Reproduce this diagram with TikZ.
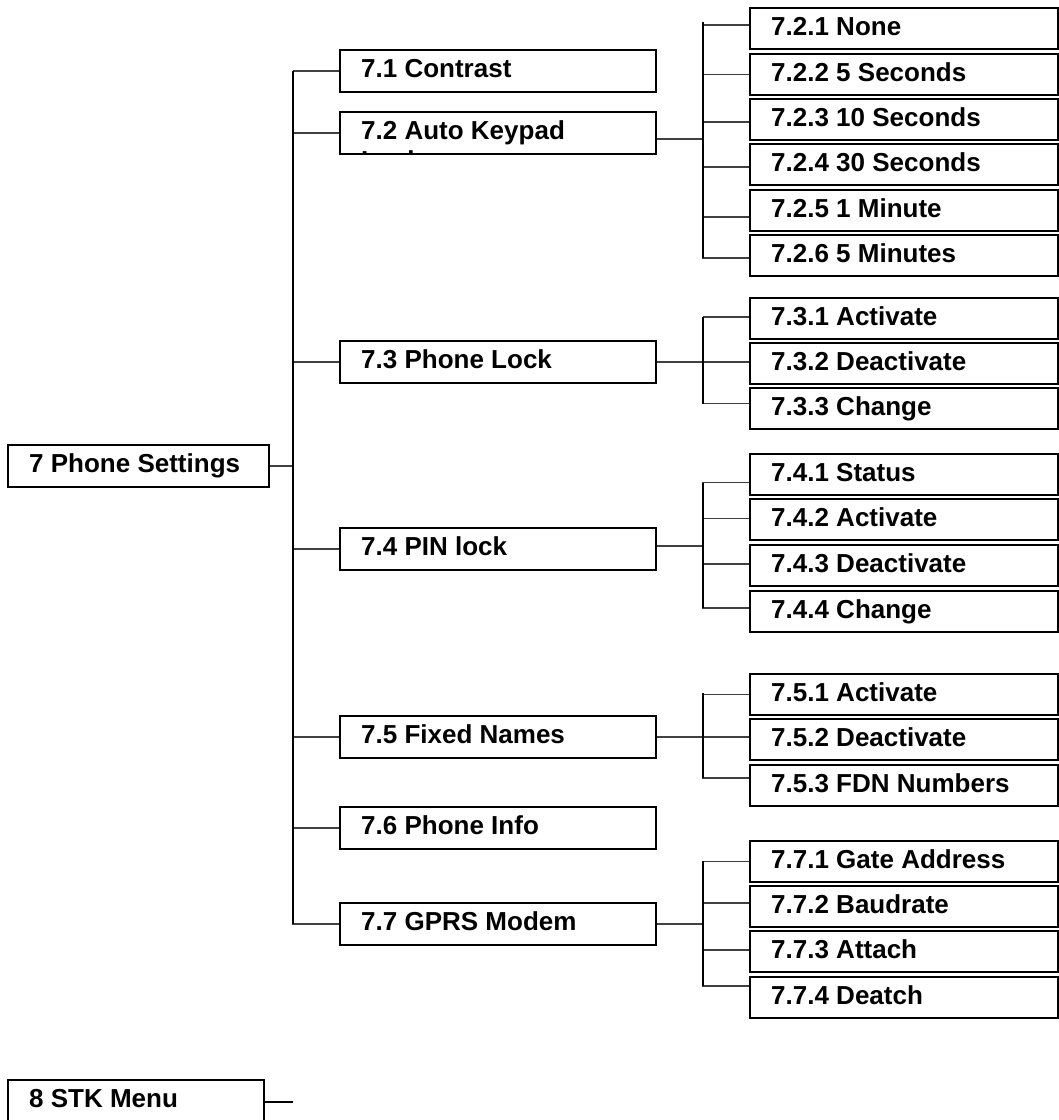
\documentclass[tikz,border=0pt]{standalone}
\usepackage{fontspec}
\setmainfont{Liberation Sans}
\usetikzlibrary{backgrounds}
\newcommand\mkbox[4]{\node[#1] (#2) at (#3) {};
  \node[lbl] (#2t) at ([xshift=21pt,yshift=-27pt]#2.north west) {#4};}
\begin{document}
\begin{tikzpicture}[x=1pt,y=-1pt,
  box/.style={draw, line width=2pt, rectangle, inner sep=0pt, outer sep=0pt, anchor=north west, minimum height=42pt},
  lone/.style={box, minimum width=316pt},
  ltwo/.style={box, minimum width=308pt, minimum height=41pt},
  lbl/.style={anchor=base west, inner sep=0pt, font=\fontsize{26}{30}\selectfont\bfseries},
  bus/.style={line width=2pt, black},
  stub/.style={line width=1.1pt, black!75}]
\useasboundingbox (0,0) rectangle (1059,1120);
\clip (0,0) rectangle (1059,1120);

% root and first level
\mkbox{box, minimum width=261pt}{n7}{8,445}{7 Phone Settings}
\mkbox{lone}{n71}{340,50}{7.1 Contrast}
\mkbox{lone}{n72}{340,112}{7.2 Auto Keypad}
\begin{scope}
  \clip (n72.north west) rectangle (n72.south east);
  \node[lbl] (n72l) at ([yshift=-30pt]n72t.base west) {Lock};
\end{scope}
\mkbox{lone}{n73}{340,341}{7.3 Phone Lock}
\mkbox{lone}{n74}{340,528}{7.4 PIN lock}
\mkbox{lone}{n75}{340,716}{7.5 Fixed Names}
\mkbox{lone}{n76}{340,807}{7.6 Phone Info}
\mkbox{lone}{n77}{340,903}{7.7 GPRS Modem}
\mkbox{box, minimum width=256pt, minimum height=60pt}{n8}{8,1080}{8 STK Menu}

% second level
\mkbox{ltwo}{n721}{750,8}{7.2.1 None}
\mkbox{ltwo}{n722}{750,54}{7.2.2 5 Seconds}
\mkbox{ltwo}{n723}{750,99}{7.2.3 10 Seconds}
\mkbox{ltwo}{n724}{750,144}{7.2.4 30 Seconds}
\mkbox{ltwo}{n725}{750,190}{7.2.5 1 Minute}
\mkbox{ltwo}{n726}{750,235}{7.2.6 5 Minutes}
\mkbox{ltwo}{n731}{750,298}{7.3.1 Activate}
\mkbox{ltwo}{n732}{750,343}{7.3.2 Deactivate}
\mkbox{ltwo}{n733}{750,388}{7.3.3 Change}
\mkbox{ltwo}{n741}{750,454}{7.4.1 Status}
\mkbox{ltwo}{n742}{750,499}{7.4.2 Activate}
\mkbox{ltwo}{n743}{750,545}{7.4.3 Deactivate}
\mkbox{ltwo}{n744}{750,591}{7.4.4 Change}
\mkbox{ltwo}{n751}{750,674}{7.5.1 Activate}
\mkbox{ltwo}{n752}{750,719}{7.5.2 Deactivate}
\mkbox{ltwo}{n753}{750,765}{7.5.3 FDN Numbers}
\mkbox{ltwo}{n771}{750,841}{7.7.1 Gate Address}
\mkbox{ltwo}{n772}{750,886}{7.7.2 Baudrate}
\mkbox{ltwo}{n773}{750,931}{7.7.3 Attach}
\mkbox{ltwo}{n774}{750,977}{7.7.4 Deatch}

% bus end points
\coordinate (trT) at (293,71);   \coordinate (trB) at (293,924);
\coordinate (b72t) at (703,22);  \coordinate (b72b) at (703,258);
\coordinate (b73t) at (703,317); \coordinate (b73b) at (703,404);
\coordinate (b74t) at (703,483); \coordinate (b74b) at (703,608);
\coordinate (b75t) at (703,693); \coordinate (b75b) at (703,778);
\coordinate (b77t) at (703,861); \coordinate (b77b) at (703,986);
\coordinate (stkend) at (293,1102);

\begin{scope}[on background layer]
  % root to trunk, trunk to first level
  \draw[stub] (n7.east) -| (trT);
  \foreach \n in {n71,n72,n73,n74,n75,n76,n77} \draw[stub] (\n.west) -| (trT);
  % first level to buses
  \draw[stub] ([yshift=-6pt]n72.east) -| (b72t);
  \draw[stub] (n73.east) -| (b73t);
  \draw[stub] ([yshift=3pt]n74.east) -| (b74t);
  \draw[stub] (n75.east) -| (b75t);
  \draw[stub] (n77.east) -| (b77t);
  % buses to second level
  \draw[stub] ([yshift=3.5pt]n721.west) -| (b72t);
  \draw[stub] (n722.west) -| (b72t);
  \draw[stub] ([yshift=-2.5pt]n723.west) -| (b72t);
  \draw[stub] ([yshift=-2.5pt]n724.west) -| (b72t);
  \draw[stub] ([yshift=-6.5pt]n725.west) -| (b72t);
  \draw[stub] ([yshift=-2.5pt]n726.west) -| (b72t);
  \draw[stub] ([yshift=1.5pt]n731.west) -| (b73t);
  \draw[stub] ([yshift=1.5pt]n732.west) -| (b73t);
  \draw[stub] ([yshift=5pt]n733.west) -| (b73t);
  \draw[stub] ([yshift=-8pt]n741.west) -| (b74t);
  \draw[stub] ([yshift=1pt]n742.west) -| (b74t);
  \draw[stub] ([yshift=1.5pt]n743.west) -| (b74t);
  \draw[stub] ([yshift=3.5pt]n744.west) -| (b74t);
  \draw[stub] (n751.west) -| (b75t);
  \draw[stub] ([yshift=2.5pt]n752.west) -| (b75t);
  \draw[stub] ([yshift=7.5pt]n753.west) -| (b75t);
  \draw[stub] (n771.west) -| (b77t);
  \draw[stub] ([yshift=3.5pt]n772.west) -| (b77t);
  \draw[stub] ([yshift=1.5pt]n773.west) -| (b77t);
  \draw[stub] ([yshift=11.5pt]n774.west) -| (b77t);
  % buses
  \draw[bus] (trT) -- (trB);
  \draw[bus] (b72t) -- (b72b);
  \draw[bus] (b73t) -- (b73b);
  \draw[bus] (b74t) -- (b74b);
  \draw[bus] (b75t) -- (b75b);
  \draw[bus] (b77t) -- (b77b);
  % STK menu stub
  \draw[line width=1.3pt] (n8.east |- stkend) -- (stkend);
\end{scope}
\end{tikzpicture}
\end{document}
